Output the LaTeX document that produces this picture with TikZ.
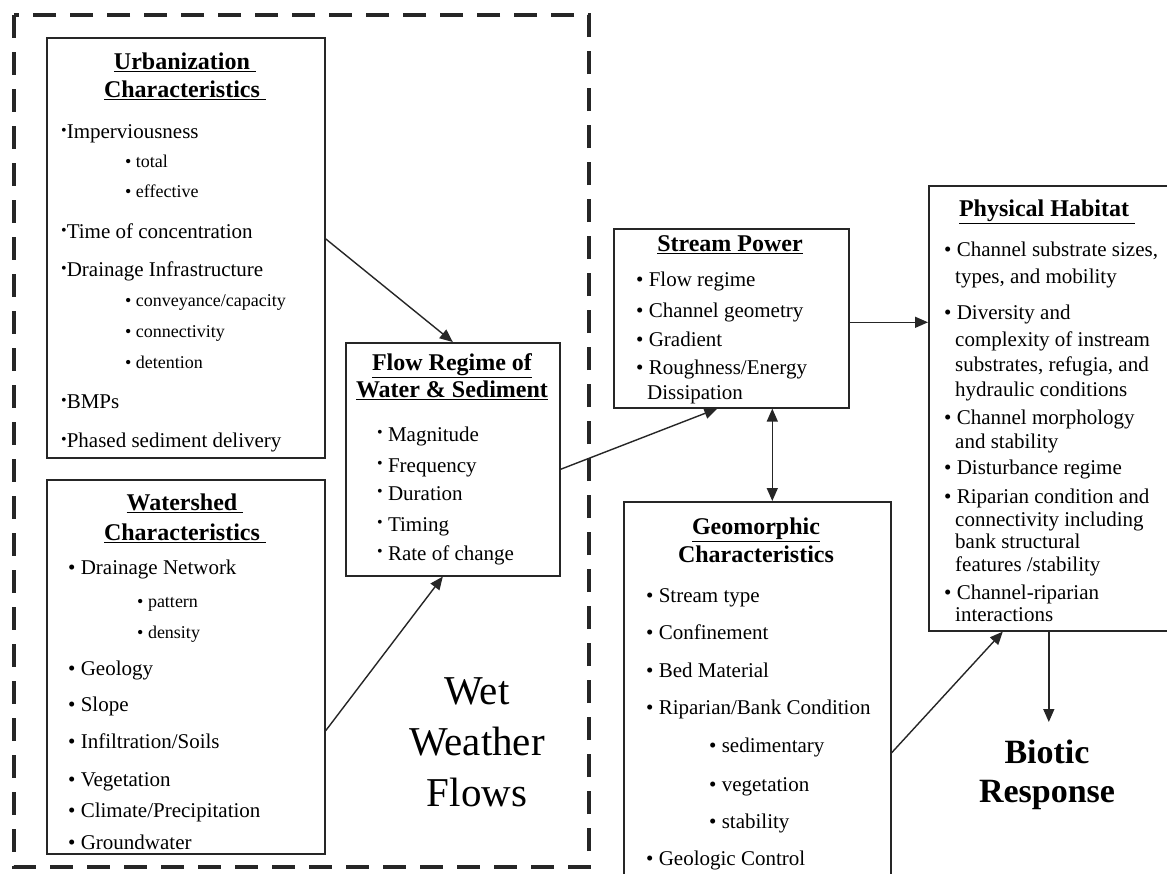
\documentclass[tikz,border=0pt]{standalone}
\usepackage{fontspec}
\setmainfont{Liberation Serif}
\usepackage{tikz}
\usetikzlibrary{positioning,arrows.meta}

\newcommand{\hib}{\raisebox{3.5pt}{\fontsize{16}{16}\selectfont •}}
\newcommand{\sm}{\fontsize{18}{22}\selectfont}

\begin{document}
\begin{tikzpicture}[
    x = 1pt, y = -1pt,
    box/.style = {draw=black!85, line width=1.6pt, anchor=north west, inner sep=0pt},
    ttl/.style = {font=\fontsize{24}{28}\selectfont\bfseries, align=center, anchor=north, inner sep=0pt},
    lst/.style = {font=\fontsize{21}{22}\selectfont, align=left, anchor=north west, inner sep=0pt},
    arr/.style = {->, line width=1.4pt, draw=black!85},
    > = {Triangle[length=13pt, width=11pt]}
]
\fill[white] (0,0) rectangle (1167,873);
\useasboundingbox (0,0) rectangle (1167,873);

% wet weather part
\draw[line width=4.5pt, black!85, dash pattern=on 23pt off 14pt] (14,15) rectangle (589,867);
\node (wwf) [font=\fontsize{41}{51}\selectfont, align=center, anchor=north, inner sep=0pt] at (477,677) {Wet\\Weather\\Flows};

\node (urb) [box, minimum width=278pt, minimum height=420pt] at (46,37) {};
\node (urbT) [ttl] at (185,52.5) {\underline{Urbanization\ }\\\underline{Characteristics\ }};
\node (urbL) [lst] at (61,124.7) {\hib Imperviousness\\[7pt]
  \hspace*{64pt}{\sm • total}\\[8pt]
  \hspace*{64pt}{\sm • effective}\\[19pt]
  \hib Time of concentration\\[16pt]
  \hib Drainage Infrastructure\\[8pt]
  \hspace*{64pt}{\sm • conveyance/capacity}\\[9pt]
  \hspace*{64pt}{\sm • connectivity}\\[9pt]
  \hspace*{64pt}{\sm • detention}\\[18pt]
  \hib BMPs\\[17pt]
  \hib Phased sediment delivery};

\node (ws) [box, minimum width=278pt, minimum height=374pt] at (46,479) {};
\node (wsT) [ttl] at (185,493.5) {\underline{Watershed\ }\\[2pt]\underline{Characteristics\ }};
\node (wsL) [lst] at (68,559.7) {• Drainage Network\\[11pt]
  \hspace*{69pt}{\sm • pattern}\\[9pt]
  \hspace*{69pt}{\sm • density}\\[15pt]
  • Geology\\[14pt]
  • Slope\\[15pt]
  • Infiltration/Soils\\[16pt]
  • Vegetation\\[9pt]
  • Climate/Precipitation\\[10pt]
  • Groundwater};

\node (flow) [box, minimum width=214pt, minimum height=233pt] at (345,342) {};
\node (flowT) [ttl] at (452,353.5) {\underline{Flow Regime of}\\[-1pt]\underline{Water \& Sediment}};
\node (flowL) [lst] at (377,426.7) {\hib\ Magnitude\\[9pt]
  \hib\ Frequency\\[6pt]
  \hib\ Duration\\[9pt]
  \hib\ Timing\\[7pt]
  \hib\ Rate of change};

% stream side
\node (sp) [box, minimum width=235pt, minimum height=179pt] at (613,228) {};
\node (spT) [ttl] at (730,235.5) {\underline{Stream Power}};
\node (spL) [lst] at (636,271.7) {• Flow regime\\[9pt]
  • Channel geometry\\[7pt]
  • Gradient\\[6pt]
  • Roughness/Energy\\[3pt]
  \hspace*{11pt}Dissipation};

\node (geo) [box, minimum width=267pt, minimum height=374pt] at (623,501) {};
\node (geoT) [ttl] at (756,517.5) {\underline{Geomorphic}\\Characteristics};
\node (geoL) [lst] at (646,588.7) {• Stream type\\[15pt]
  • Confinement\\[16pt]
  • Bed Material\\[15pt]
  • Riparian/Bank Condition\\[16pt]
  \hspace*{63pt}• sedimentary\\[17pt]
  \hspace*{63pt}• vegetation\\[15pt]
  \hspace*{63pt}• stability\\[15pt]
  • Geologic Control};

\node (ph) [box, minimum width=240pt, minimum height=445pt] at (928,185) {};
\node (phT) [ttl] at (1047,199.5) {\underline{Physical Habitat\ }};
\node (phL) [lst] at (944,241.7) {• Channel substrate sizes,\\[5pt]
  \hspace*{11pt}types, and mobility\\[14pt]
  • Diversity and\\[5pt]
  \hspace*{11pt}complexity of instream\\[3pt]
  \hspace*{11pt}substrates, refugia, and\\[3pt]
  \hspace*{11pt}hydraulic conditions\\[6pt]
  • Channel morphology\\[2pt]
  \hspace*{11pt}and stability\\[4pt]
  • Disturbance regime\\[7pt]
  • Riparian condition and\\[1pt]
  \hspace*{11pt}connectivity including\\[0pt]
  \hspace*{11pt}bank structural\\[1pt]
  \hspace*{11pt}features /stability\\[6pt]
  • Channel-riparian\\[0pt]
  \hspace*{11pt}interactions};

\node (bio) [font=\fontsize{34}{39}\selectfont\bfseries, align=center, anchor=north, inner xsep=4pt, inner ysep=18pt] at (1047,722) {Biotic\\Response};

\draw[arr] ([yshift=9pt]urb.east) to (flow.north);
\draw[arr] ([yshift=-64pt]ws.east) to ([xshift=-10pt]flow.south);
\draw[arr] ([yshift=-10pt]flow.east) to ([xshift=-14pt]sp.south);
\draw[arr, <->] ([xshift=41pt]sp.south) to ([xshift=15pt]geo.north);
\draw[arr] ([yshift=-4pt]sp.east) to ([yshift=-4pt]sp.east -| ph.west);
\draw[arr] ([yshift=-64pt]geo.east) to ([xshift=-46pt]ph.south);
\draw[arr] (ph.south) to (ph.south |- bio.north);
\end{tikzpicture}
\end{document}
